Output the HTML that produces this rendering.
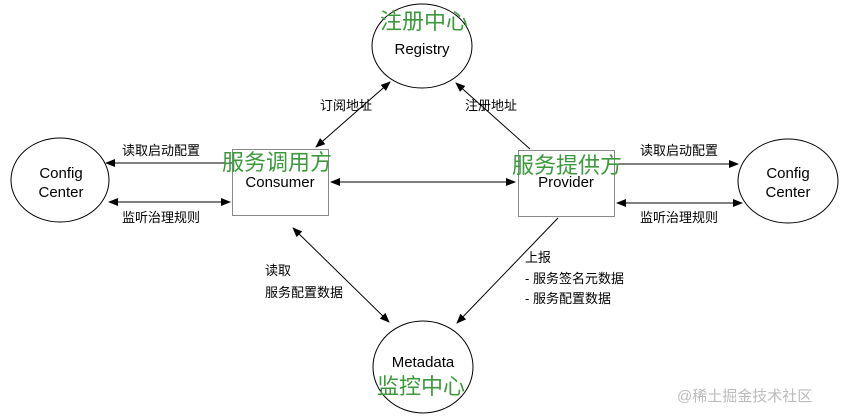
<!DOCTYPE html>
<html><head><meta charset="utf-8"><style>
body{margin:0;background:#fff;}
svg{display:block;font-family:"Liberation Sans","Noto Sans CJK SC",sans-serif;}
</style></head><body>
<svg width="854" height="417" viewBox="0 0 854 417" xmlns="http://www.w3.org/2000/svg">
<defs>
<marker id="a" markerWidth="10" markerHeight="8" refX="9" refY="4" orient="auto-start-reverse" markerUnits="userSpaceOnUse">
<path d="M0,0 L10,4 L0,8 z" fill="#000"/></marker>
</defs>
<g fill="none" stroke="#000" stroke-width="1">
<ellipse cx="422" cy="46" rx="50" ry="42"/>
<ellipse cx="60" cy="180" rx="49" ry="42"/>
<ellipse cx="788" cy="181" rx="50" ry="42"/>
<ellipse cx="423" cy="367" rx="50" ry="46"/>
<rect x="232.5" y="149.5" width="96" height="66" stroke="#888"/>
<rect x="518.5" y="150.5" width="96" height="66" stroke="#888"/>
<line x1="316" y1="147" x2="390" y2="82" marker-start="url(#a)" marker-end="url(#a)"/>
<line x1="530" y1="149" x2="456" y2="83" marker-end="url(#a)"/>
<line x1="331" y1="182" x2="515" y2="182" marker-start="url(#a)" marker-end="url(#a)"/>
<line x1="232" y1="163" x2="106" y2="163" marker-end="url(#a)"/>
<line x1="109" y1="202" x2="230" y2="202" marker-start="url(#a)" marker-end="url(#a)"/>
<line x1="615" y1="164" x2="738" y2="164" marker-end="url(#a)"/>
<line x1="617" y1="203" x2="742" y2="203" marker-start="url(#a)" marker-end="url(#a)"/>
<line x1="293" y1="228" x2="389" y2="322" marker-start="url(#a)" marker-end="url(#a)"/>
<line x1="558" y1="218" x2="457" y2="323" marker-end="url(#a)"/>
</g>
<g font-size="15" fill="#000" text-anchor="middle">
<text x="422" y="54">Registry</text>
<text x="61" y="178">Config</text>
<text x="61" y="197">Center</text>
<text x="788" y="178">Config</text>
<text x="788" y="197">Center</text>
<text x="280" y="187">Consumer</text>
<text x="566" y="187">Provider</text>
<text x="423" y="367">Metadata</text>
</g>
<g font-size="13" fill="#000">
<text x="320" y="110">订阅地址</text>
<text x="465" y="110">注册地址</text>
<text x="122" y="155">读取启动配置</text>
<text x="122" y="222">监听治理规则</text>
<text x="640" y="155">读取启动配置</text>
<text x="640" y="222">监听治理规则</text>
<text x="265" y="275">读取</text>
<text x="265" y="297">服务配置数据</text>
<text x="525" y="262">上报</text>
<text x="525" y="283">- 服务签名元数据</text>
<text x="525" y="303">- 服务配置数据</text>
</g>
<g font-size="22" fill="#3c9a3c">
<text x="380" y="29">注册中心</text>
<text x="222" y="170">服务调用方</text>
<text x="512" y="173">服务提供方</text>
<text x="377" y="394">监控中心</text>
</g>
<text x="677" y="401" font-size="15" fill="#bbb">@稀土掘金技术社区</text>
</svg>
</body></html>
